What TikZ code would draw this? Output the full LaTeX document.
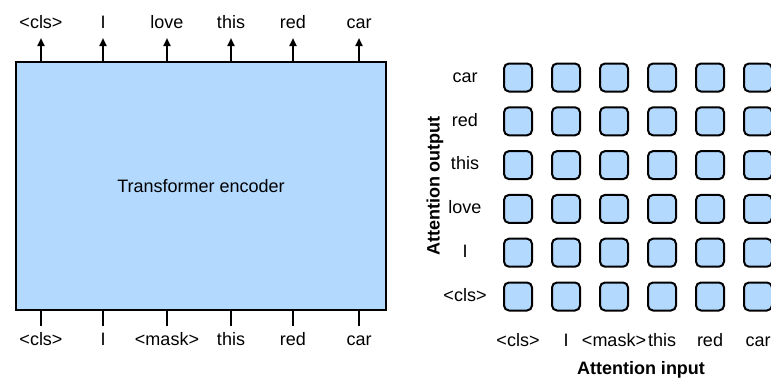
\documentclass[tikz,border=0pt]{standalone}
\usepackage{fontspec}
\setmainfont{Liberation Sans}
\usetikzlibrary{arrows.meta}
\definecolor{boxblue}{RGB}{179,217,255}
\begin{document}
\begin{tikzpicture}[x=1pt,y=-1pt,
  every node/.style={font=\fontsize{18}{21}\selectfont, inner sep=0pt},
  lbl/.style={anchor=base},
  encbox/.style={draw=black, line width=2pt, fill=boxblue, minimum width=370pt, minimum height=248pt},
  cell/.style={draw=black, line width=2pt, fill=boxblue, rounded corners=5pt, minimum width=28pt, minimum height=28pt},
  arr/.style={line width=2pt, -{Triangle[length=8pt,width=7pt]}},
  tick/.style={line width=2pt},
  axis/.style={font=\bfseries\fontsize{18}{21}\selectfont}]
\useasboundingbox (0,0) rectangle (771,381);
\clip (0,0) rectangle (771,381);
% encoder
\node[encbox] (enc) at (201,186) {};
\node (enctext) at (201,186) {Transformer encoder};
\foreach \x/\t/\i in {41/{<cls>}/1,103/I/2,167/love/3,231/this/4,293/red/5,359/car/6}{
  \node[lbl] (tl\i) at (\x,28.3) {\t};
  \coordinate (ta\i) at (\x,38);
  \draw[arr] (enc.north -| tl\i) -- (ta\i);
}
\foreach \x/\t/\i in {41/{<cls>}/1,103/I/2,167/{<mask>}/3,231/this/4,293/red/5,359/car/6}{
  \node[lbl] (bl\i) at (\x,345.3) {\t};
  \coordinate (bc\i) at (\x,326);
  \draw[tick] (bc\i) -- (enc.south -| bc\i);
}
% attention grid
\foreach \r/\t [count=\j] in {{<cls>}/1,I/2,love/3,this/4,red/5,car/6}{
  \pgfmathsetmacro{\yy}{296.5-43.8*(\j-1)}
  \node[lbl] (row\j) at (465,\yy+4.8) {\r};
  \foreach \c in {1,...,6}{
    \node[cell] (c\j\c) at ({518+48*(\c-1)},\yy) {};
  }
}
\foreach \x/\t/\i in {518/{<cls>}/1,566/I/2,614/{<mask>}/3,662/this/4,710/red/5,758/car/6}{
  \node[lbl] (col\i) at (\x,346.3) {\t};
}
\node[axis, rotate=90] (yl) at (435,186) {Attention output};
\node[axis, anchor=base] (xl) at (641,374.5) {Attention input};
\end{tikzpicture}
\end{document}
